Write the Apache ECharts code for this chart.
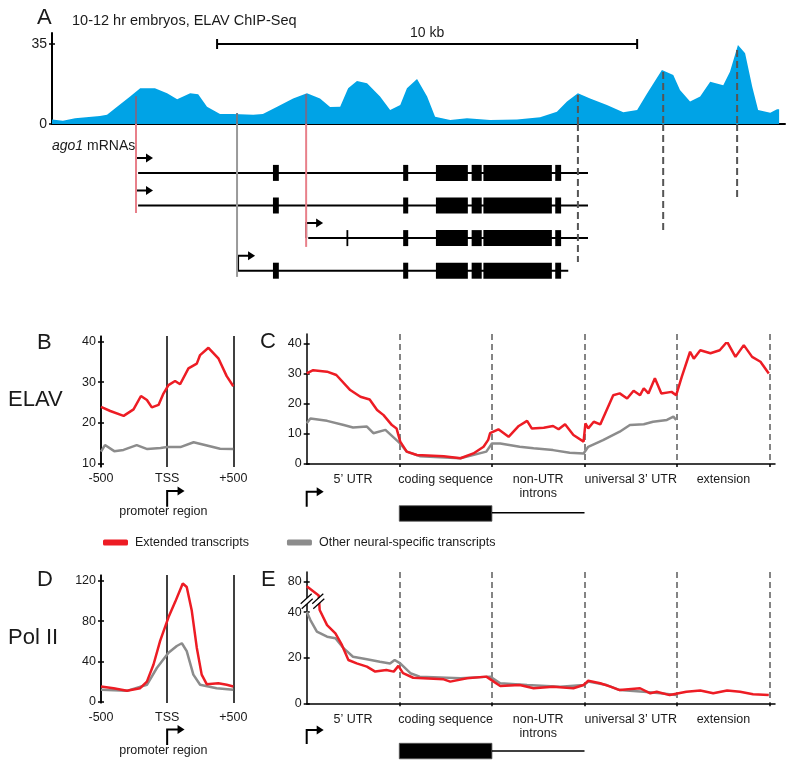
<!DOCTYPE html>
<html><head><meta charset="utf-8">
<script src="https://cdn.jsdelivr.net/npm/echarts@6/dist/echarts.min.js"></script>
<style>html,body{margin:0;padding:0;background:#fff}#c{width:800px;height:769px}</style>
</head><body><div id="c"></div><script>
// ---------------- DATA ----------------
// Panel A: ELAV ChIP-Seq coverage along the ago1 locus (position in kb, depth)
const chipPosKb = [0,0.26,0.55,1.14,1.31,1.55,1.86,2.10,2.45,2.74,2.98,3.29,3.48,3.69,4.00,4.31,4.79,5.02,5.36,5.74,6.07,6.38,6.62,6.86,7.05,7.26,7.50,7.81,8.05,8.29,8.45,8.69,8.93,9.12,9.48,9.88,10.43,11.07,11.62,12.02,12.26,12.52,12.81,13.21,13.60,13.93,14.17,14.52,14.79,14.95,15.19,15.43,15.67,15.98,16.14,16.33,16.50,16.67,16.81,17.10,17.26,17.31];
const chipDepth = [2.0,1.4,2.5,3.5,4.0,7.6,12.0,15.6,15.6,13.4,10.8,13.4,13.0,7.6,4.4,4.4,4.0,4.4,7.6,11.2,13.4,11.2,7.4,7.6,15.6,18.8,17.8,12.0,6.1,8.3,15.6,19.7,12.0,3.2,1.75,2.5,1.75,2.0,2.9,5.4,9.8,13.4,11.2,8.3,5.1,6.1,13.4,23.6,21.4,14.9,9.8,12.0,18.5,17.0,22.9,34.6,30.9,16.3,6.1,4.9,6.4,6.4];
const chipTicks = [0, 35];
const chipTitle = '10-12 hr embryos, ELAV ChIP-Seq';
const scaleBarKb = [3.93, 13.93];
const scaleBarLabel = '10 kb';

// ago1 transcript models (rows), positions in kb
const rowPos = [1.5, 2.5, 3.5, 4.5];
const tssKb = [2.0, 2.0, 6.05, 4.43];
const lineStartKb = [2.05, 2.05, 6.10, 4.43];
const lineEndKb = [12.76, 12.76, 12.76, 12.29];
const sharedExons = [[8.36,8.48],[9.14,9.90],[9.99,10.23],[10.27,11.90],[11.98,12.12]];
const firstExons = [[5.26,5.40],[5.26,5.40],[7.01,7.04],[5.26,5.40]];

// connectors from ChIP peaks to transcript ends
const connectorKb = [2.0, 6.05, 4.405, 12.52, 14.55, 16.31];
const connectorTop = [12.2, 13.1, 4.8, 12.7, 22.7, 32.4];
const connectorEndRow = [2.73, 3.77, 4.69, 4.23, 3.25, 2.27];
const connectorKind = ['pink','pink','gray','dash','dash','dash'];

// Panel B: ELAV at promoter region
const bExtPos = [-500,-430,-329,-254,-198,-153,-116,-65,-28,10,60,98,161,224,249,312,387,450,500];
const bExtVal = [23.9,22.9,21.7,23.3,26.6,25.6,23.8,24.4,27.2,29.3,30.3,29.5,33.4,34.6,36.7,38.5,35.9,31.5,29.0];
const bOthPos = [-500,-470,-400,-330,-230,-150,-50,0,100,200,300,400,500];
const bOthVal = [12.9,14.5,13.0,13.3,14.5,13.5,13.8,14.0,14.0,15.2,14.4,13.6,13.5];

// Panel C: ELAV along transcript segments (0..5)
const cExtPos = [0,0.07,0.22,0.32,0.47,0.58,0.68,0.76,0.83,0.92,0.97,1.01,1.08,1.19,1.48,1.66,1.80,1.91,1.96,1.98,2.07,2.18,2.29,2.38,2.43,2.56,2.66,2.72,2.79,2.88,2.99,3.01,3.04,3.10,3.17,3.31,3.38,3.46,3.53,3.60,3.64,3.69,3.76,3.83,3.94,3.99,4.05,4.14,4.18,4.25,4.36,4.46,4.54,4.63,4.72,4.81,4.90,4.99];
const cExtVal = [30.0,31.1,30.6,29.5,24.5,22.3,21.4,17.9,16.2,12.9,11.8,7.4,4.1,3.0,2.6,1.9,3.5,5.7,8.0,10.2,11.5,9.0,12.6,14.3,11.8,12.0,12.6,11.5,13.2,9.6,7.4,13.5,11.8,14.0,13.1,22.8,23.4,21.7,24.3,22.8,25.1,23.4,28.4,23.4,23.9,22.8,28.9,37.2,34.9,37.7,36.7,37.7,40.5,35.5,39.4,35.5,33.9,30.0];
const cOthPos = [0,0.04,0.22,0.40,0.50,0.65,0.72,0.85,0.97,1.01,1.08,1.22,1.66,1.94,2.00,2.09,2.30,2.45,2.66,2.84,2.99,3.04,3.20,3.38,3.49,3.64,3.74,3.89,3.96,3.99];
const cOthVal = [13.5,15.1,14.3,12.9,12.1,12.4,10.2,11.3,7.9,6.8,4.1,2.6,1.9,4.1,6.8,6.8,5.7,5.2,4.6,3.7,3.5,5.7,7.9,10.7,12.9,13.2,14.0,14.6,15.7,14.6];

// Panel D: Pol II at promoter region
const dExtPos = [-500,-405,-304,-204,-153,-103,-53,10,60,118,148,186,224,261,299,387,450,500];
const dExtVal = [15.1,13.4,10.8,13.4,20,37,60.4,83.9,99,117.5,114,90.6,53.7,26.9,17.4,18.4,16.8,15.1];
const dOthPos = [-500,-304,-153,-78,10,73,111,148,198,249,374,500];
const dOthVal = [11.8,10.8,16.8,33.5,48.6,55.4,58.1,50.3,26.9,16.8,13.4,11.8];

// Panel E: Pol II along transcript segments
const eExtPos = [0,0.13,0.14,0.22,0.31,0.38,0.45,0.54,0.65,0.74,0.86,0.94,0.99,1.04,1.15,1.48,1.55,1.73,1.94,2.02,2.09,2.30,2.45,2.66,2.88,2.99,3.04,3.17,3.28,3.38,3.60,3.71,3.78,3.92,4.10,4.25,4.39,4.54,4.68,4.82,4.99];
const eExtVal = [78,74,40.9,34.3,30.7,25.6,19.0,17.5,16.1,13.9,14.6,13.9,16.4,13.2,11.2,10.5,9.5,11.0,11.7,9.5,7.6,8.0,6.6,7.3,6.6,8.0,9.9,8.8,7.3,5.8,6.6,4.4,5.1,3.6,5.1,5.6,4.4,5.6,5.1,4.0,3.6];
const eOthPos = [0,0.04,0.11,0.22,0.31,0.40,0.50,0.65,0.79,0.90,0.95,1.01,1.12,1.22,1.66,1.98,2.09,2.38,2.74,2.99,3.04,3.24,3.38,3.64,3.82,3.99];
const eOthVal = [40.2,36.5,31.4,29.2,28.5,24.1,20.4,19.3,18.2,17.5,19.0,17.5,13.2,11.7,11.0,11.7,8.8,8.0,7.3,8.0,9.5,8.0,5.8,5.1,4.4,3.6];
const eBreak = [42, 72];
const eTicks = [0, 20, 40, 80];

// labels
const segmentCenters = [0.5, 1.5, 2.5, 3.5, 4.5];
const segmentLabels = ['5\u2019 UTR', 'coding sequence', 'non-UTR\nintrons', 'universal 3\u2019 UTR', 'extension'];
const segmentBounds = [1, 2, 3, 4, 5];
const promoterTickValues = [-500, 0, 500];
const promoterTickLabels = ['-500', 'TSS', '+500'];
const promoterLabel = 'promoter region';
const seriesNames = ['Extended transcripts', 'Other neural-specific transcripts'];

// ---------------- STYLE ----------------
const FONT = '"Liberation Sans", Arial, Helvetica, sans-serif';
const RED = '#ed1c24', GRAY = '#8c8c8c', BLUE = '#00a3e6', TXT = '#1a1a1a';
const SEGMAX = 5.057, KBMAX = 17.45;

const chart = echarts.init(document.getElementById('c'), null, {renderer: 'canvas'});

const grids = [
  {left:52, top:44, width:733, height:80},          //0 A
  {left:52, top:33, width:733, height:91},          //1 A frame
  {left:52, top:124, width:733, height:163},        //2 genes
  {left:101, top:341.7, width:132.3, height:121.6}, //3 B
  {left:101, top:336, width:132.3, height:131},     //4 B frame
  {left:306.7, top:343.3, width:468.3, height:120.7}, //5 C
  {left:306.7, top:334, width:468.3, height:130},     //6 C frame
  {left:101, top:581, width:132.3, height:120.7},   //7 D
  {left:101, top:575, width:132.3, height:128},     //8 D frame
  {left:306.7, top:581.7, width:468.3, height:121.6}, //9 E
  {left:306.7, top:572, width:468.3, height:131.3}    //10 E frame
].map(g => Object.assign({outerBoundsMode:'none', containLabel:false}, g));

const hidden = {axisLine:{show:false, onZero:false}, axisTick:{show:false}, axisLabel:{show:false}, splitLine:{show:false}};
const lbl = (extra) => Object.assign({color:TXT, fontFamily:FONT, fontSize:12.5}, extra);

function promoterX(gi){
  return {gridIndex:gi, type:'value', min:-500, max:500, axisLine:{show:false, onZero:false}, axisTick:{show:false}, splitLine:{show:false},
    axisLabel: lbl({customValues: promoterTickValues, margin:9,
      formatter: v => promoterTickLabels[promoterTickValues.indexOf(v)]})};
}
function promoterFrameX(gi){
  return {gridIndex:gi, type:'value', min:-500, max:500, interval:500, axisLine:{show:false, onZero:false}, axisTick:{show:false}, axisLabel:{show:false},
    splitLine:{show:true, lineStyle:{color:'#000', width:1.5}}};
}
function segX(gi){
  return {gridIndex:gi, type:'value', min:0, max:SEGMAX, axisLine:{show:true, onZero:false, lineStyle:{color:'#000', width:1.5}},
    axisTick:{show:true, customValues: segmentBounds, length:3, lineStyle:{color:'#000', width:1.5}},
    splitLine:{show:false},
    axisLabel: lbl({customValues: segmentCenters, margin:9, lineHeight:14,
      formatter: v => segmentLabels[segmentCenters.indexOf(v)]})};
}
function segFrameX(gi){
  return {gridIndex:gi, type:'value', min:0, max:SEGMAX, interval:1, axisLine:{show:false, onZero:false}, axisTick:{show:false}, axisLabel:{show:false},
    splitLine:{show:true, showMinLine:false, showMaxLine:false, lineStyle:{color:'#666', width:1.6, type:[6,4]}}};
}
function frameY(gi, w){
  return {gridIndex:gi, type:'value', min:0, max:1, axisLine:{show:true, onZero:false, lineStyle:{color:'#000', width:w||1.5}},
    axisTick:{show:false}, axisLabel:{show:false}, splitLine:{show:false}};
}
// ticks cross the axis line: axis shifted right by 3px and ticks 6px long outward
function valY(gi, min, max, interval, fs, extra){
  return Object.assign({gridIndex:gi, type:'value', position:'left', offset:-3, min, max, interval, axisLine:{show:false, onZero:false},
    axisTick:{show:true, length:6, lineStyle:{color:'#000', width:1.5}}, splitLine:{show:false},
    axisLabel: lbl({fontSize:fs||12.5, margin:8})}, extra||{});
}

const xAxis = [
  {gridIndex:0, type:'value', min:0, max:KBMAX, axisLine:{show:true, onZero:false, lineStyle:{color:'#000', width:2}}, axisTick:{show:false}, axisLabel:{show:false}, splitLine:{show:false}},
  Object.assign({gridIndex:1, type:'value', min:0, max:KBMAX}, hidden),
  Object.assign({gridIndex:2, type:'value', min:0, max:KBMAX}, hidden),
  promoterX(3), promoterFrameX(4),
  segX(5), segFrameX(6),
  promoterX(7), promoterFrameX(8),
  segX(9), segFrameX(10)
];
const yAxis = [
  valY(0, chipTicks[0], chipTicks[1], chipTicks[1]-chipTicks[0], 14),
  frameY(1, 2),
  Object.assign({gridIndex:2, type:'value', min:0, max:5, inverse:true}, hidden),
  valY(3, 10, 40, 10), frameY(4),
  valY(5, 0, 40, 10), frameY(6),
  valY(7, 0, 120, 40), frameY(8),
  valY(9, 0, 80, 20, 12.5, {
    breaks:[{start:eBreak[0], end:eBreak[1], gap:'6.25%'}], breakArea:{show:false},
    axisTick:{show:true, length:6, customValues: eTicks, lineStyle:{color:'#000', width:1.5}},
    axisLabel: lbl({margin:8, customValues: eTicks})
  }),
  frameY(10)
];

function lineSeries(name, xs, ys, gi, color){
  return {type:'line', name, xAxisIndex:gi, yAxisIndex:gi, data: xs.map((x,i)=>[x, ys[i]]),
    showSymbol:false, symbol:'none', color, lineStyle:{color, width:2.5}, z:3, animation:false};
}

const connStyles = {
  top: {pink:{stroke:'#6f6f8f', lineWidth:2}, gray:{stroke:'#6d7a86', lineWidth:2}, dash:{stroke:'#555', lineWidth:2, lineDash:[7,4]}},
  bottom: {pink:{stroke:'#e8808a', lineWidth:2}, gray:{stroke:'#9a9a9a', lineWidth:2}, dash:{stroke:'#555', lineWidth:2, lineDash:[7,4]}}
};

function arrowEls(x, yBase, yTop, len){
  return [
    {type:'polyline', shape:{points:[[x, yBase],[x, yTop],[x+len-6, yTop]]}, style:{stroke:'#000', lineWidth:2, fill:'none'}},
    {type:'polygon', shape:{points:[[x+len-7, yTop-4.5],[x+len, yTop],[x+len-7, yTop+4.5]]}, style:{fill:'#000'}}
  ];
}

function schematicSeries(gi, off){
  return {type:'custom', xAxisIndex:gi, yAxisIndex:gi, data:[[0,0]], z:5, clip:false, silent:true,
    renderItem:(params, api) => {
      const p0 = api.coord([0, api.value(1)]);
      const b1 = api.coord([segmentBounds[0], 0]), b2 = api.coord([segmentBounds[1], 0]), l2 = api.coord([segmentBounds[2], 0]);
      const by = p0[1];
      return {type:'group', children: [
        ...arrowEls(p0[0], by+off.arrowBase, by+off.arrowTop, 17),
        {type:'rect', shape:{x:b1[0], y:by+off.boxTop, width:b2[0]-b1[0], height:15.5}, style:{fill:'#000', stroke:'#555', lineWidth:0.8}},
        {type:'line', shape:{x1:b2[0], y1:by+off.lineY, x2:l2[0], y2:by+off.lineY}, style:{stroke:'#000', lineWidth:1.5}}
      ]};
    }};
}
function promoterArrowSeries(gi, ymin){
  return {type:'custom', xAxisIndex:gi, yAxisIndex:gi, data:[[0, ymin]], z:5, clip:false, silent:true,
    renderItem:(params, api) => {
      const p = api.coord([api.value(0), api.value(1)]);
      return {type:'group', children:[
        ...arrowEls(p[0], p[1]+43.4, p[1]+27.8, 17.4),
        {type:'text', style:{text:promoterLabel, x:p[0]-3.8, y:p[1]+48.5, align:'center', verticalAlign:'middle', textAlign:'center', textVerticalAlign:'middle', font:'12.5px '+FONT, fill:TXT}}
      ]};
    }};
}

const series = [
  {type:'line', name:'ChIP', xAxisIndex:0, yAxisIndex:0, data: chipPosKb.map((x,i)=>[x, chipDepth[i]]), showSymbol:false, symbol:'none',
   color:BLUE, lineStyle:{width:0}, areaStyle:{color:BLUE, opacity:1}, z:2, animation:false, silent:true},
  // scale bar
  {type:'custom', xAxisIndex:0, yAxisIndex:0, data:[[scaleBarKb[0], scaleBarKb[1], chipTicks[1]]], z:4, clip:false, silent:true,
   renderItem:(params, api) => {
     const a = api.coord([api.value(0), api.value(2)]), b = api.coord([api.value(1), api.value(2)]);
     return {type:'group', children:[
       {type:'line', shape:{x1:a[0], y1:a[1], x2:b[0], y2:b[1]}, style:{stroke:'#000', lineWidth:2}},
       {type:'line', shape:{x1:a[0], y1:a[1]-5, x2:a[0], y2:a[1]+5}, style:{stroke:'#000', lineWidth:2}},
       {type:'line', shape:{x1:b[0], y1:b[1]-5, x2:b[0], y2:b[1]+5}, style:{stroke:'#000', lineWidth:2}},
       {type:'text', style:{text:scaleBarLabel, x:(a[0]+b[0])/2, y:a[1]-11, align:'center', verticalAlign:'middle', textAlign:'center', textVerticalAlign:'middle', font:'14px '+FONT, fill:TXT}}
     ]};
   }},
  // gene models
  {type:'custom', xAxisIndex:2, yAxisIndex:2, data: rowPos.map((y,i)=>[lineStartKb[i], y]), z:4, clip:false, silent:true,
   renderItem:(params, api) => {
     const r = params.dataIndex, y = rowPos[r];
     const a = api.coord([lineStartKb[r], y]), b = api.coord([lineEndKb[r], y]);
     const ch = [{type:'line', shape:{x1:a[0], y1:a[1], x2:b[0], y2:b[1]}, style:{stroke:'#000', lineWidth:2}}];
     [firstExons[r]].concat(sharedExons).forEach(([s,e]) => {
       const p = api.coord([s, y]), q = api.coord([e, y]);
       ch.push({type:'rect', shape:{x:p[0], y:p[1]-8, width:Math.max(q[0]-p[0], 1.8), height:16}, style:{fill:'#000'}});
     });
     const t = api.coord([tssKb[r], y]);
     ch.push(...arrowEls(t[0], t[1], t[1]-15, 17));
     return {type:'group', children: ch};
   }},
  // connectors: part within ChIP track
  {type:'custom', xAxisIndex:0, yAxisIndex:0, data: connectorKb.map((x,i)=>[x, connectorTop[i]]), z:6, clip:false, silent:true,
   renderItem:(params, api) => {
     const p = api.coord([api.value(0), api.value(1)]), q = api.coord([api.value(0), 0]);
     return {type:'line', shape:{x1:p[0], y1:p[1], x2:q[0], y2:q[1]}, style: connStyles.top[connectorKind[params.dataIndex]]};
   }},
  // connectors: part within transcript panel
  {type:'custom', xAxisIndex:2, yAxisIndex:2, data: connectorKb.map((x,i)=>[x, connectorEndRow[i]]), z:6, clip:false, silent:true,
   renderItem:(params, api) => {
     const p = api.coord([api.value(0), 0]), q = api.coord([api.value(0), api.value(1)]);
     return {type:'line', shape:{x1:p[0], y1:p[1], x2:q[0], y2:q[1]}, style: connStyles.bottom[connectorKind[params.dataIndex]]};
   }},
  lineSeries(seriesNames[1], bOthPos, bOthVal, 3, GRAY),
  lineSeries(seriesNames[0], bExtPos, bExtVal, 3, RED),
  promoterArrowSeries(3, 10),
  lineSeries(seriesNames[1], cOthPos, cOthVal, 5, GRAY),
  lineSeries(seriesNames[0], cExtPos, cExtVal, 5, RED),
  schematicSeries(5, {arrowBase:42.7, arrowTop:27.7, boxTop:41.7, lineY:48.7}),
  lineSeries(seriesNames[1], dOthPos, dOthVal, 7, GRAY),
  lineSeries(seriesNames[0], dExtPos, dExtVal, 7, RED),
  promoterArrowSeries(7, 0),
  lineSeries(seriesNames[1], eOthPos, eOthVal, 9, GRAY),
  lineSeries(seriesNames[0], eExtPos, eExtVal, 9, RED),
  schematicSeries(9, {arrowBase:40.7, arrowTop:26.7, boxTop:40, lineY:47.7}),
  // axis break marks
  {type:'custom', xAxisIndex:9, yAxisIndex:9, data:[[0, 0], [0.125, 0]], z:8, clip:false, silent:true,
   renderItem:(params, api) => {
     const lo = api.coord([api.value(0), eBreak[0]]), hi = api.coord([api.value(0), eBreak[1]]);
     const cx = lo[0], cy = (lo[1]+hi[1])/2 - 2;
     return {type:'group', children:[
       {type:'polygon', shape:{points:[[cx-5, cy+1],[cx+4, cy-7],[cx+5, cy-2],[cx-4, cy+6]]}, style:{fill:'#fff'}},
       {type:'line', shape:{x1:cx-6, y1:cy+2, x2:cx+5, y2:cy-8}, style:{stroke:'#000', lineWidth:1.2}},
       {type:'line', shape:{x1:cx-5, y1:cy+7, x2:cx+6, y2:cy-3}, style:{stroke:'#000', lineWidth:1.2}}
     ]};
   }}
];

function gtext(x, y, text, size, extra){
  return Object.assign({type:'text', x, y, silent:true, z:10,
    style:{text, font: size+'px '+FONT, fill:TXT, verticalAlign:'middle', textVerticalAlign:'middle'}}, extra||{});
}

const option = {
  animation:false,
  backgroundColor:'#fff',
  textStyle:{fontFamily:FONT},
  grid: grids, xAxis, yAxis, series,
  legend:{left:103, top:536, padding:0, itemWidth:25, itemHeight:6, itemGap:38, icon:'roundRect', selectedMode:false,
    data: seriesNames, textStyle:{fontSize:12.5, color:TXT, fontFamily:FONT, padding:[0,0,0,2]}},
  graphic:[
    gtext(37, 18, 'A', 22),
    gtext(72, 21, chipTitle, 14.5),
    {type:'text', x:52, y:146, silent:true, z:10, style:{text:'{i|ago1} mRNAs', font:'14px '+FONT, fill:TXT, verticalAlign:'middle', textVerticalAlign:'middle',
      rich:{i:{fontStyle:'italic', fontSize:14, fontFamily:FONT, fill:TXT}}}},
    gtext(37, 343, 'B', 22),
    gtext(8, 400, 'ELAV', 22),
    gtext(260, 342, 'C', 22),
    gtext(37, 580, 'D', 22),
    gtext(8, 638, 'Pol II', 22),
    gtext(261, 580, 'E', 22)
  ]
};
chart.setOption(option);
</script></body></html>
